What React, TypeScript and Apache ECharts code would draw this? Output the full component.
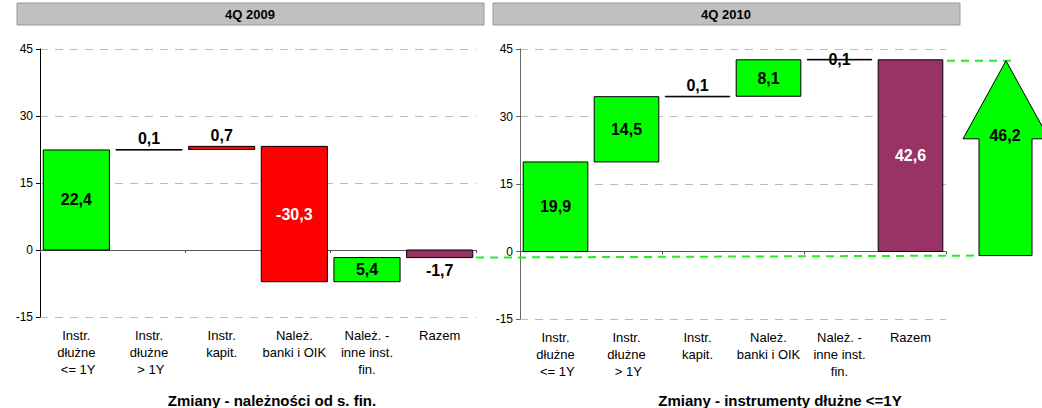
import React, { useEffect, useRef } from 'react';
import * as echarts from 'echarts';

const categories = [
  'Instr.\ndłużne\n <= 1Y',
  'Instr.\ndłużne\n > 1Y',
  'Instr.\nkapit.',
  'Należ.\nbanki i OIK',
  'Należ. -\ninne inst.\nfin.',
  'Razem',
];
const changes2009 = [22.4, 0.1, 0.7, -30.3, 5.4, -1.7];
const changes2010 = [19.9, 14.5, 0.1, 8.1, 0.1, 42.6];
const colors2009 = ['#00FF00', '#000000', '#FF0000', '#FF0000', '#00FF00', '#993366'];
const colors2010 = ['#00FF00', '#00FF00', '#000000', '#00FF00', '#000000', '#993366'];
const labelPos2009 = ['inside', 'top', 'top', 'inside', 'inside', 'bottom'];
const labelPos2010 = ['inside', 'inside', 'top', 'inside', 'inside', 'inside'];
const labelColor2009 = ['#000', '#000', '#000', '#fff', '#000', '#000'];
const labelColor2010 = ['#000', '#000', '#000', '#000', '#000', '#fff'];
const yMin = -15;
const yMax = 45;
const yStep = 15;
const panelTitles = ['4Q 2009', '4Q 2010'];
const chartTitles = ['Zmiany - należności od s. fin.', 'Zmiany - instrumenty dłużne <=1Y'];
const arrowValue = 46.2;

const FONT = '"Liberation Sans", Arial, sans-serif';
const fmt = (v: number) => v.toFixed(1).replace('.', ',');

function waterfall(values: number[]) {
  const out: number[][] = [];
  let cum = 0;
  values.forEach((v, i) => {
    if (i === values.length - 1) {
      out.push([i, 0, v, v]);
    } else {
      out.push([i, cum, cum + v, v]);
      cum += v;
    }
  });
  return out;
}

function makeRender(colors: string[], pos: string[], lcolors: string[]) {
  return (params: any, api: any) => {
    const i = api.value(0);
    const s = api.value(1);
    const e = api.value(2);
    const v = api.value(3);
    const a = api.coord([i, s]);
    const b = api.coord([i, e]);
    const w = api.size([1, 0])[0] * 0.91;
    const x = a[0] - w / 2;
    const top = Math.min(a[1], b[1]);
    const h = Math.abs(a[1] - b[1]);
    const idx = params.dataIndex;
    const p = pos[idx];
    let ty: number;
    let tv: string;
    if (p === 'top') {
      ty = top - 3;
      tv = 'bottom';
    } else if (p === 'bottom') {
      ty = top + h + 5;
      tv = 'top';
    } else {
      ty = top + h / 2;
      tv = 'middle';
    }
    return {
      type: 'group',
      children: [
        {
          type: 'rect',
          shape: { x, y: top, width: w, height: Math.max(h, 0.6) },
          style: { fill: colors[idx], stroke: '#000', lineWidth: 1 },
        },
        {
          type: 'text',
          x: a[0],
          y: ty,
          z2: 10,
          style: {
            text: fmt(v),
            fill: lcolors[idx],
            font: `bold 16px ${FONT}`,
            align: 'center',
            verticalAlign: tv,
          },
        },
      ],
    };
  };
}

export default function App() {
  const ref = useRef<HTMLDivElement>(null);
  useEffect(() => {
    if (!ref.current) return;
    const chart = echarts.init(ref.current, null, { renderer: 'svg' });
    const grids = [
      { left: 40, top: 49, width: 436, height: 268 },
      { left: 520, top: 49, width: 426, height: 270 },
    ];
    const xAxes: any[] = [];
    const yAxes: any[] = [];
    [0, 1].forEach((g) => {
      xAxes.push({
        gridIndex: g,
        type: 'category',
        data: categories,
        axisLine: { onZero: true, lineStyle: { color: '#555', width: 1 } },
        axisTick: { show: true, length: 3, lineStyle: { color: '#555' } },
        axisLabel: { show: false },
      });
      yAxes.push({
        gridIndex: g,
        type: 'value',
        min: yMin,
        max: yMax,
        interval: yStep,
        axisLine: { show: true, lineStyle: { color: g === 0 ? '#000' : '#666', width: 1 } },
        axisTick: { show: true, length: 4, lineStyle: { color: g === 0 ? '#000' : '#666' } },
        axisLabel: { color: '#000', fontSize: 12, fontFamily: FONT, margin: 7 },
        splitLine: { show: true, lineStyle: { color: '#BBBBBB', type: [8, 7], width: 1 } },
      });
    });
    [0, 1].forEach((g) => {
      xAxes.push({
        gridIndex: g,
        type: 'category',
        data: categories,
        position: 'bottom',
        axisLine: { show: false, onZero: false },
        axisTick: { show: false },
        axisLabel: {
          color: '#000',
          fontSize: 13,
          fontFamily: FONT,
          lineHeight: 17,
          margin: 10,
          interval: 0,
        },
      });
    });

    chart.setOption({
      animation: false,
      grid: grids,
      xAxis: xAxes,
      yAxis: yAxes,
      series: [
        {
          type: 'custom',
          xAxisIndex: 0,
          yAxisIndex: 0,
          data: waterfall(changes2009),
          renderItem: makeRender(colors2009, labelPos2009, labelColor2009),
        },
        {
          type: 'custom',
          xAxisIndex: 1,
          yAxisIndex: 1,
          data: waterfall(changes2010),
          renderItem: makeRender(colors2010, labelPos2010, labelColor2010),
        },
      ],
    });

    const lastL = changes2009.length - 1;
    const lastR = changes2010.length - 1;
    const pLeftTotal = chart.convertToPixel({ gridIndex: 0 }, [lastL, changes2009[lastL]]) as number[];
    const pRightTotal = chart.convertToPixel({ gridIndex: 1 }, [lastR, changes2010[lastR]]) as number[];
    const yBottom = pLeftTotal[1] - 1;
    const yTop = pRightTotal[1] + 1;
    const headBase = yTop + 78;
    const dashed = { stroke: '#22EE22', lineWidth: 2, lineDash: [8, 6] };

    chart.setOption({
      graphic: [
        {
          type: 'rect',
          shape: { x: 17, y: 3, width: 467, height: 22 },
          style: { fill: '#C0C0C0', stroke: '#999', lineWidth: 1 },
        },
        {
          type: 'text',
          x: 250,
          y: 14,
          style: { text: panelTitles[0], font: `bold 13px ${FONT}`, fill: '#000', align: 'center', verticalAlign: 'middle' },
        },
        {
          type: 'rect',
          shape: { x: 493, y: 3, width: 467, height: 22 },
          style: { fill: '#C0C0C0', stroke: '#999', lineWidth: 1 },
        },
        {
          type: 'text',
          x: 726,
          y: 14,
          style: { text: panelTitles[1], font: `bold 13px ${FONT}`, fill: '#000', align: 'center', verticalAlign: 'middle' },
        },
        {
          type: 'text',
          x: 272,
          y: 400,
          style: { text: chartTitles[0], font: `bold 15px ${FONT}`, fill: '#000', align: 'center', verticalAlign: 'middle' },
        },
        {
          type: 'text',
          x: 780,
          y: 400,
          style: { text: chartTitles[1], font: `bold 15px ${FONT}`, fill: '#000', align: 'center', verticalAlign: 'middle' },
        },
        {
          type: 'line',
          z: 50,
          shape: { x1: 476, y1: yBottom + 1, x2: 980, y2: yBottom - 1 },
          style: dashed,
        },
        {
          type: 'line',
          z: 50,
          shape: { x1: 947, y1: yTop, x2: 1013, y2: yTop },
          style: dashed,
        },
        {
          type: 'polygon',
          z: 60,
          shape: {
            points: [
              [963, headBase],
              [1006, yTop],
              [1049, headBase],
              [1032, headBase],
              [1032, yBottom - 1],
              [979, yBottom - 1],
              [979, headBase],
            ],
          },
          style: { fill: '#00FF00', stroke: '#000', lineWidth: 1 },
        },
        {
          type: 'text',
          z: 61,
          x: 1005,
          y: headBase - 3,
          style: { text: fmt(arrowValue), font: `bold 16px ${FONT}`, fill: '#000', align: 'center', verticalAlign: 'middle' },
        },
      ],
    });

    return () => chart.dispose();
  }, []);
  return (
    <div
      ref={ref}
      style={{ position: 'fixed', left: 0, top: 0, width: 1042, height: 408, background: '#fff' }}
    />
  );
}
